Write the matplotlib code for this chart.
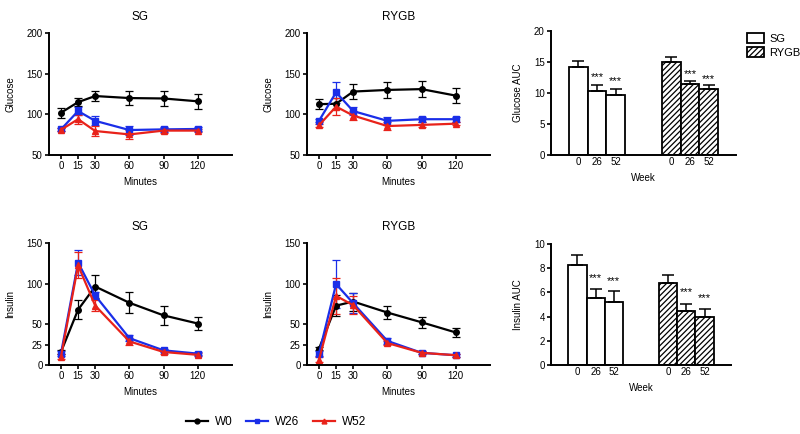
import numpy as np
import matplotlib
matplotlib.use('Agg')
import matplotlib.pyplot as plt
from matplotlib.patches import Patch
from matplotlib.lines import Line2D

plt.rcParams['font.family'] = ['Liberation Sans', 'DejaVu Sans']

minutes = [0, 15, 30, 60, 90, 120]
weeks = ['W0', 'W26', 'W52']

# glucose, SG
glu_sg = {'W0': [102, 115, 122.5, 120, 119.5, 116],
          'W26': [81.5, 104, 92, 80.7, 81.5, 82],
          'W52': [81, 94, 79.5, 75.3, 80, 80]}
glu_sg_err = {'W0': [6, 5, 6.5, 9, 9, 9],
              'W26': [2, 5, 5.5, 5.5, 3, 3],
              'W52': [2, 5.5, 6, 6, 3, 2]}
# glucose, RYGB
glu_ry = {'W0': [112.5, 113, 128, 130, 131, 123],
          'W26': [92, 127, 104, 92, 94, 94],
          'W52': [86.5, 109.5, 98.5, 85.6, 87, 88.5]}
glu_ry_err = {'W0': [6, 7, 9, 10, 10, 9],
              'W26': [2, 13, 5, 5, 3, 3],
              'W52': [2, 10, 5, 5, 3, 2]}
# insulin, SG
ins_sg = {'W0': [16, 68, 96.5, 76.5, 61, 51],
          'W26': [14, 126, 85.5, 33, 18, 14],
          'W52': [10, 122.5, 73, 29, 16, 12.5]}
ins_sg_err = {'W0': [3, 12, 14, 13, 12, 8.5],
              'W26': [3, 15, 4, 4, 2, 2],
              'W52': [3, 16, 7, 4, 2, 2]}
# insulin, RYGB
ins_ry = {'W0': [20, 73, 78, 64.5, 52.5, 40],
          'W26': [14, 99.5, 76, 29.6, 15, 12],
          'W52': [6.5, 85, 73.5, 27, 15, 12]}
ins_ry_err = {'W0': [2, 13, 11, 8, 7, 5],
              'W26': [3, 30, 12, 4, 2, 2],
              'W52': [3, 22, 11, 3, 2, 2]}

auc_week = ['0', '26', '52']
glu_auc_sg = [14.2, 10.4, 9.6]
glu_auc_sg_err = [1.0, 0.9, 1.0]
glu_auc_ry = [15.0, 11.4, 10.6]
glu_auc_ry_err = [0.8, 0.6, 0.7]
ins_auc_sg = [8.3, 5.5, 5.2]
ins_auc_sg_err = [0.8, 0.8, 0.9]
ins_auc_ry = [6.8, 4.5, 4.0]
ins_auc_ry_err = [0.6, 0.55, 0.6]

colors = {'W0': 'black', 'W26': '#1a2ee8', 'W52': '#e8221a'}
markers = {'W0': 'o', 'W26': 's', 'W52': '^'}

fig = plt.figure(figsize=(8, 4.34), dpi=100)

W = 800.0
H = 434.0


def ax_at(l, r, t, b):
    return fig.add_axes([l / W, 1 - b / H, (r - l) / W, (b - t) / H])


def style(ax):
    for s in ['top', 'right']:
        ax.spines[s].set_visible(False)
    for s in ['left', 'bottom']:
        ax.spines[s].set_linewidth(1.4)
    ax.tick_params(labelsize=7, width=1.2, length=3, pad=1.5)


def line_panel(ax, data, err, title, ylabel, ylim, yticks):
    for w in weeks:
        ax.errorbar(minutes, data[w], yerr=err[w], color=colors[w],
                    marker=markers[w], markersize=4, lw=1.6,
                    capsize=3, elinewidth=0.9, capthick=0.9,
                    clip_on=False)
    ax.set_xlim(-10.5, 150)
    ax.set_ylim(*ylim)
    ax.set_xticks(minutes)
    ax.set_yticks(yticks)
    ax.set_title(title, fontsize=8.5, pad=9)
    ax.set_xlabel('Minutes', fontsize=7)
    ax.set_ylabel(ylabel, fontsize=7, labelpad=8)
    style(ax)


def bar_panel(ax, sg, sg_err, ry, ry_err, ylabel, ylim, yticks, star_y):
    pos_sg = [0, 1, 2]
    pos_ry = [5, 6, 7]
    ax.bar(pos_sg, sg, width=1, color='white', edgecolor='black', lw=1.3)
    ax.bar(pos_ry, ry, width=1, color='white', edgecolor='black', lw=1.3,
           hatch='//////')
    ax.errorbar(pos_sg, sg, yerr=[np.zeros(3), sg_err], fmt='none',
                ecolor='black', capsize=4, elinewidth=1.1, capthick=1.1)
    ax.errorbar(pos_ry, ry, yerr=[np.zeros(3), ry_err], fmt='none',
                ecolor='black', capsize=4, elinewidth=1.1, capthick=1.1)
    for p, y in zip([1, 2, 6, 7], star_y):
        ax.text(p, y, '***', ha='center', va='center', fontsize=8)
    ax.set_xlim(-1.46, 8.46)
    ax.set_ylim(*ylim)
    ax.set_yticks(yticks)
    ax.set_xticks(pos_sg + pos_ry)
    ax.set_xticklabels(auc_week * 2)
    ax.set_xlabel('Week', fontsize=7)
    ax.set_ylabel(ylabel, fontsize=7, labelpad=8)
    style(ax)
    ax.tick_params(axis='x', length=0)


plt.rcParams['hatch.linewidth'] = 0.9

ax1 = ax_at(49, 232, 33, 155)
line_panel(ax1, glu_sg, glu_sg_err, 'SG', 'Glucose', (50, 200), [50, 100, 150, 200])
ax2 = ax_at(307, 490, 33, 155)
line_panel(ax2, glu_ry, glu_ry_err, 'RYGB', 'Glucose', (50, 200), [50, 100, 150, 200])
ax4 = ax_at(49, 232, 243, 365)
line_panel(ax4, ins_sg, ins_sg_err, 'SG', 'Insulin', (0, 150), [0, 25, 50, 100, 150])
ax5 = ax_at(307, 490, 243, 365)
line_panel(ax5, ins_ry, ins_ry_err, 'RYGB', 'Insulin', (0, 150), [0, 25, 50, 100, 150])

ax3 = ax_at(551, 736, 31, 155)
bar_panel(ax3, glu_auc_sg, glu_auc_sg_err, glu_auc_ry, glu_auc_ry_err,
          'Glucose AUC', (0, 20), [0, 5, 10, 15, 20], [12.6, 11.9, 13.0, 12.3])
ax6 = ax_at(551, 731, 244, 365)
bar_panel(ax6, ins_auc_sg, ins_auc_sg_err, ins_auc_ry, ins_auc_ry_err,
          'Insulin AUC', (0, 10), [0, 2, 4, 6, 8, 10], [7.2, 6.9, 6.0, 5.5])

handles = [Patch(facecolor='white', edgecolor='black', lw=1.3, label='SG'),
           Patch(facecolor='white', edgecolor='black', lw=1.3, hatch='//////',
                 label='RYGB')]
fig.legend(handles=handles, loc='upper left', bbox_to_anchor=(747 / W, 1 - 33 / H),
           frameon=False, fontsize=8, handlelength=1.5, handleheight=1.0,
           handletextpad=0.5, labelspacing=0.3, borderpad=0, borderaxespad=0)

h = [Line2D([], [], color=colors[w], marker=markers[w], markersize=3.5, lw=1.6)
     for w in weeks]
fig.legend(h, weeks, loc='center', bbox_to_anchor=(276 / W, 1 - 422 / H), ncol=3,
           frameon=False, fontsize=8.5, handlelength=1.9, columnspacing=1.1,
           handletextpad=0.6)

fig.savefig('out.png', dpi=100)
